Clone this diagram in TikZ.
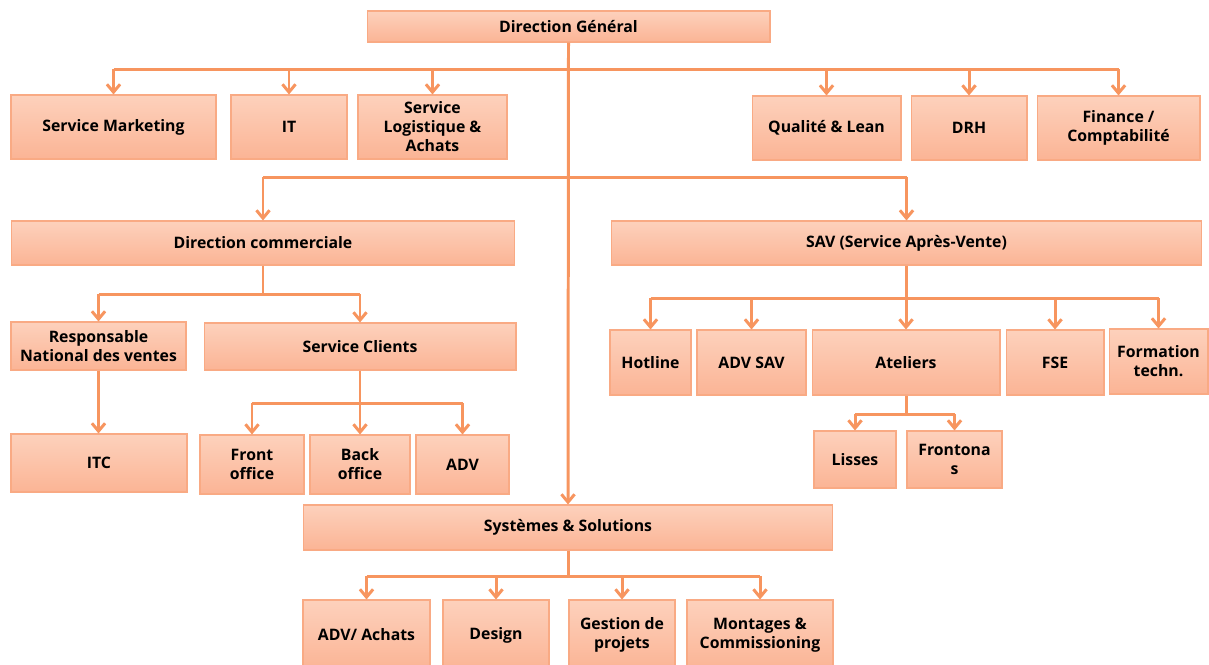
\documentclass[tikz,border=0pt]{standalone}
\usepackage{fontspec}
\setmainfont{Open Sans}
\usepackage{tikz}
\usetikzlibrary{arrows.meta, positioning}
\usepackage{xcolor}
\definecolor{boxtop}{HTML}{FDD1BC}
\definecolor{boxbot}{HTML}{FBB495}
\definecolor{boxline}{HTML}{F9AA84}
\definecolor{link}{HTML}{F7955F}

\begin{document}
\begin{tikzpicture}[x=0.02cm, y=-0.02cm,
            box/.style={draw=boxline, line width=0.6pt, top color=boxtop, bottom color=boxbot,
                align=center, inner sep=1pt, font=\fontsize{9}{10.8}\selectfont\bfseries},
            link/.style={draw=link, line width=1.7pt},
            down/.style={link, -{Straight Barb[length=4.5pt, width=7.5pt]}}]
            \useasboundingbox (0,0) rectangle (1209,664);

            \node[box, minimum width=8.06cm, minimum height=0.62cm] (dg) at (568.5,26.5) {Direction Général};

            \node[box, minimum width=4.10cm, minimum height=1.28cm] (mk) at (113.5,127) {Service Marketing};
            \node[box, minimum width=2.32cm, minimum height=1.28cm] (it) at (289,127) {IT};
            \node[box, minimum width=2.98cm, minimum height=1.28cm] (log) at (432.5,127) {Service\\Logistique \&\\Achats};
            \node[box, minimum width=2.98cm, minimum height=1.28cm] (ql) at (826.5,128) {Qualité \& Lean};
            \node[box, minimum width=2.32cm, minimum height=1.28cm] (drh) at (969,128) {DRH};
            \node[box, minimum width=3.26cm, minimum height=1.28cm] (fin) at (1118.5,128) {Finance /\\Comptabilité};

            \node[box, minimum width=10.08cm, minimum height=0.88cm] (dc) at (263,243) {Direction commerciale};
            \node[box, minimum width=11.82cm, minimum height=0.88cm] (sav) at (906.5,243) {SAV (Service Après-Vente)};

            \node[box, minimum width=3.50cm, minimum height=0.96cm] (rnv) at (98.5,346) {Responsable\\National des ventes};
            \node[box, minimum width=6.24cm, minimum height=0.94cm] (sc) at (360,346.5) {Service Clients};
            \node[box, minimum width=3.52cm, minimum height=1.16cm] (itc) at (99,463) {ITC};
            \node[box, minimum width=2.08cm, minimum height=1.18cm] (fo) at (252,464.5) {Front\\office};
            \node[box, minimum width=2.00cm, minimum height=1.18cm] (bo) at (360,464.5) {Back\\office};
            \node[box, minimum width=1.86cm, minimum height=1.18cm] (adv) at (462.5,464.5) {ADV};

            \node[box, minimum width=1.62cm, minimum height=1.30cm] (hot) at (650.5,362.5) {Hotline};
            \node[box, minimum width=2.18cm, minimum height=1.30cm] (advs) at (751.5,362.5) {ADV SAV};
            \node[box, minimum width=3.76cm, minimum height=1.30cm] (ate) at (906,362.5) {Ateliers};
            \node[box, minimum width=1.96cm, minimum height=1.30cm] (fse) at (1055,362.5) {FSE};
            \node[box, minimum width=1.98cm, minimum height=1.30cm] (form) at (1158.5,361.5) {Formation\\techn.};
            \node[box, minimum width=1.64cm, minimum height=1.14cm] (lis) at (855,459.5) {Lisses};
            \node[box, minimum width=1.90cm, minimum height=1.14cm] (fro) at (954.5,459.5) {Frontona\\s};

            \node[box, minimum width=10.60cm, minimum height=0.90cm] (ss) at (568,527.5) {Systèmes \& Solutions};
            \node[box, minimum width=2.54cm, minimum height=1.40cm] (ach) at (366.5,635) {ADV/ Achats};
            \node[box, minimum width=2.12cm, minimum height=1.40cm] (des) at (496,635) {Design};
            \node[box, minimum width=2.12cm, minimum height=1.40cm] (gp) at (622,635) {Gestion de\\projets};
            \node[box, minimum width=2.92cm, minimum height=1.40cm] (mc) at (760,635) {Montages \&\\Commissioning};

            \coordinate (bar1) at (568.5,69);
            \coordinate (bar2) at (568.5,177);
            \coordinate (bar3) at (263,294);
            \coordinate (bar4) at (360,403);
            \coordinate (bar5) at (906.5,298);
            \coordinate (bar6) at (906,414);
            \coordinate (bar7) at (568,576);

            \draw[down] (dg.south) -- (ss.north);

            \draw[link] (mk.north |- bar1) -- (fin.north |- bar1);
            \foreach \n in {mk, it, log, ql, drh, fin}
                \draw[down] (\n.north |- bar1) -- (\n.north);

            \draw[link] (dc.north |- bar2) -- (sav.north |- bar2);
            \foreach \n in {dc, sav}
                \draw[down] (\n.north |- bar2) -- (\n.north);

            \draw[link] (dc.south) -- (bar3);
            \draw[link] (rnv.north |- bar3) -- (sc.north |- bar3);
            \foreach \n in {rnv, sc}
                \draw[down] (\n.north |- bar3) -- (\n.north);
            \draw[down] (rnv.south) -- (rnv.south |- itc.north);

            \draw[link] (sc.south) -- (bar4);
            \draw[link] (fo.north |- bar4) -- (adv.north |- bar4);
            \foreach \n in {fo, bo, adv}
                \draw[down] (\n.north |- bar4) -- (\n.north);

            \draw[link] (sav.south) -- (bar5);
            \draw[link] (hot.north |- bar5) -- (form.north |- bar5);
            \foreach \n in {hot, advs, ate, fse, form}
                \draw[down] (\n.north |- bar5) -- (\n.north);

            \draw[link] (ate.south) -- (bar6);
            \draw[link] (lis.north |- bar6) -- (fro.north |- bar6);
            \foreach \n in {lis, fro}
                \draw[down] (\n.north |- bar6) -- (\n.north);

            \draw[link] (ss.south) -- (bar7);
            \draw[link] (ach.north |- bar7) -- (mc.north |- bar7);
            \foreach \n in {ach, des, gp, mc}
                \draw[down] (\n.north |- bar7) -- (\n.north);
        \end{tikzpicture}
\end{document}
